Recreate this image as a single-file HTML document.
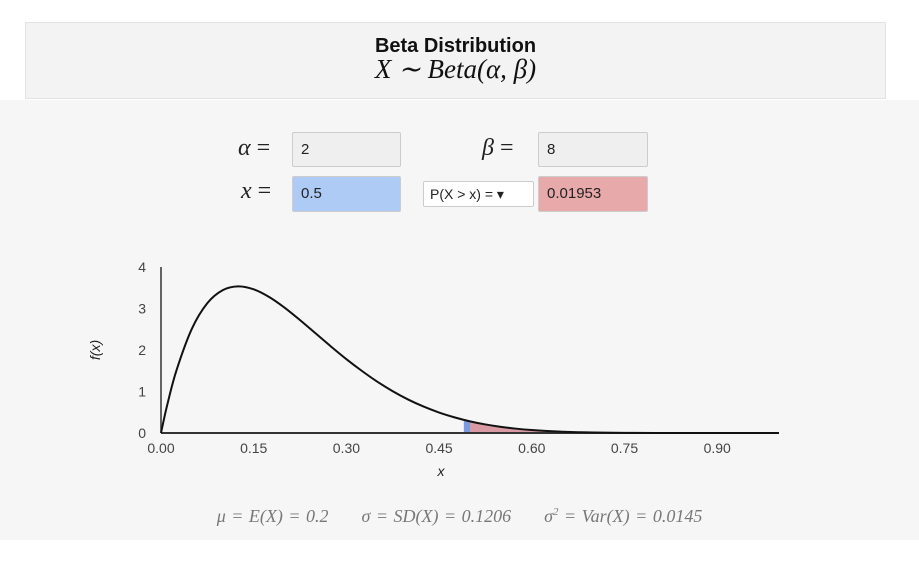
<!DOCTYPE html>
<html><head><meta charset="utf-8"><style>
body{margin:0;width:919px;height:565px;background:#fff;font-family:"Liberation Sans",sans-serif;position:relative;overflow:hidden}
.abs{position:absolute}
.box{position:absolute;border:1px solid #ccc;box-sizing:border-box;font-size:15px;padding-left:8px;line-height:33px;color:#222;border-radius:2px}
.lbl{position:absolute;font-family:"Liberation Serif",serif;font-style:italic;font-size:24px;color:#222}
</style></head><body>
<div class="abs" style="left:0;top:100px;width:919px;height:440px;background:#f6f6f6"></div>
<div class="abs" style="left:25px;top:22px;width:861px;height:77px;background:#f3f3f3;border:1px solid #e2e2e2;box-sizing:border-box;text-align:center">
 <div style="font-weight:bold;font-size:20px;margin-top:12px;color:#111">Beta Distribution</div>
 <div style="font-family:'Liberation Serif',serif;font-style:italic;font-size:27px;margin-top:-4px;color:#111">X ∼ Beta(α, β)</div>
</div>
<div class="lbl" style="left:238px;top:135px">α <span style="font-style:normal">=</span></div>
<div class="box" style="left:292px;top:132px;width:109px;height:35px;background:#efefef">2</div>
<div class="lbl" style="left:482px;top:135px">β <span style="font-style:normal">=</span></div>
<div class="box" style="left:538px;top:132px;width:110px;height:35px;background:#efefef">8</div>
<div class="lbl" style="left:241px;top:178px">x <span style="font-style:normal">=</span></div>
<div class="box" style="left:292px;top:176px;width:109px;height:36px;background:#aecbf5">0.5</div>
<div class="box" style="left:423px;top:181px;width:111px;height:26px;background:#fff;line-height:24px;font-size:14px;padding-left:6px">P(X &gt; x) = ▾</div>
<div class="box" style="left:538px;top:176px;width:110px;height:36px;background:#e8a9aa">0.01953</div>
<svg class="abs" style="left:0;top:0" width="919" height="565" id="chart"></svg>
<div class="abs" style="left:0;top:506px;width:919px;text-align:center;font-family:'Liberation Serif',serif;font-style:italic;font-size:18px;color:#777;word-spacing:1px">μ = E(X) = 0.2 &nbsp;&nbsp;&nbsp;&nbsp; σ = SD(X) = 0.1206 &nbsp;&nbsp;&nbsp;&nbsp; σ<sup style="font-size:11px">2</sup> = Var(X) = 0.0145</div>
<script>
const xs=[0,0.01,0.025,0.05,0.075,0.1,0.125,0.15,0.175,0.2,0.225,0.25,0.275,0.3,0.325,0.35,0.375,0.4,0.425,0.45,0.475,0.5,0.525,0.55,0.575,0.6,0.625,0.65,0.675,0.7,0.75,0.8,0.9,1.0];
const ys=[0,0.671,1.508,2.514,3.130,3.444,3.534,3.462,3.277,3.020,2.720,2.403,2.085,1.779,1.497,1.236,1.006,0.806,0.636,0.493,0.377,0.281,0.206,0.148,0.104,0.071,0.047,0.030,0.019,0.011,0.0033,0.0007,0,0];
const xTicks=[0,0.15,0.30,0.45,0.60,0.75,0.90];
const xTickLabels=["0.00","0.15","0.30","0.45","0.60","0.75","0.90"];
const yTicks=[0,1,2,3,4];
const xCut=0.5;
const svg=document.getElementById('chart');const NS='http://www.w3.org/2000/svg';
const X=v=>161+v*618, Y=v=>433-v*41.5;
function mk(t,a,name){const e=document.createElementNS(NS,t);for(const k in a)e.setAttribute(k,a[k]);


svg.appendChild(e);return e;}
function interp(x){for(let i=1;i<xs.length;i++)if(x<=xs[i]){const t=(x-xs[i-1])/(xs[i]-xs[i-1]);return ys[i-1]+t*(ys[i]-ys[i-1]);}return 0;}
function smooth(pts){let d=`M${pts[0][0]},${pts[0][1]}`;
for(let i=0;i<pts.length-1;i++){const p0=pts[Math.max(0,i-1)],p1=pts[i],p2=pts[i+1],p3=pts[Math.min(pts.length-1,i+2)];
const c1=[p1[0]+(p2[0]-p0[0])/6,p1[1]+(p2[1]-p0[1])/6],c2=[p2[0]-(p3[0]-p1[0])/6,p2[1]-(p3[1]-p1[1])/6];
d+=` C${c1[0]},${c1[1]} ${c2[0]},${c2[1]} ${p2[0]},${p2[1]}`;}return d;}
// red area
const tail=[[X(xCut),Y(interp(xCut))]];xs.forEach((x,i)=>{if(x>xCut)tail.push([X(x),Y(ys[i])])});
mk('path',{d:smooth(tail)+` L${X(1)},${Y(0)} L${X(xCut)},${Y(0)}Z`,fill:'#d99aa3'},'upper-tail-area');
const b0=xCut-0.01;
mk('path',{d:`M${X(b0)},${Y(0)} L${X(b0)},${Y(interp(b0))} L${X(xCut)},${Y(interp(xCut))} L${X(xCut)},${Y(0)}Z`,fill:'#7b9be0'},'x-marker-band');
mk('line',{x1:X(0),y1:Y(0),x2:X(1),y2:Y(0),stroke:'#333','stroke-width':2},'x-axis');
mk('line',{x1:X(0),y1:Y(0),x2:X(0),y2:Y(4),stroke:'#333','stroke-width':1.5},'y-axis');
mk('path',{d:smooth(xs.map((x,i)=>[X(x),Y(ys[i])])),fill:'none',stroke:'#111','stroke-width':2},'pdf-curve');
xTicks.forEach((t,i)=>{const e=mk('text',{x:X(t),y:453,'text-anchor':'middle','font-size':14,fill:'#444','font-family':'Liberation Sans'},'x-tick-label');e.textContent=xTickLabels[i];});
yTicks.forEach(t=>{const e=mk('text',{x:146,y:Y(t)+5,'text-anchor':'end','font-size':14,fill:'#444','font-family':'Liberation Sans'},'y-tick-label');e.textContent=t;});
const xl=mk('text',{x:441,y:476,'text-anchor':'middle','font-size':14,'font-style':'italic',fill:'#222','font-family':'Liberation Sans'},'x-axis-title');xl.textContent='x';
const yl=mk('text',{x:0,y:0,transform:'translate(100,350) rotate(-90)','text-anchor':'middle','font-size':14,'font-style':'italic',fill:'#222','font-family':'Liberation Sans'},'y-axis-title');yl.textContent='f(x)';
</script>
</body></html>
